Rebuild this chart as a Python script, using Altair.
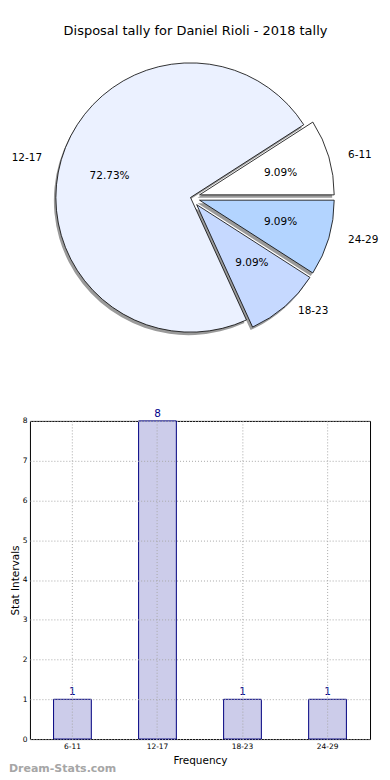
import math
import altair as alt
import pandas as pd

# ---------------- data ----------------
categories = ["6-11", "12-17", "18-23", "24-29"]
counts = [1, 8, 1, 1]
pie_colors = ["#ffffff", "#ebf1ff", "#c6d9ff", "#b3d4ff"]
explode = [0.07, 0.0, 0.07, 0.07]
y_ticks = [0, 1, 2, 3, 4, 5, 6, 7, 8]

title_text = "Disposal tally for Daniel Rioli - 2018 tally"
watermark = "Dream-Stats.com"

# ---------------- layout constants ----------------
X0 = 29          # page x of bar view left edge
CX = 190 - X0    # pie centre in view coords
CY = 189
R = 135
LRX = 141        # label placement radii (reference pie is slightly elliptical)
LRY = 128
BAR_W = 370 - X0
BAR_H = 319
PIE_W = 382 - X0
PIE_H = 380

# ---------------- pie table (built from the arrays) ----------------
total = sum(counts)
rows = []
a0 = 0.0
for cat, c, col, ex in zip(categories, counts, pie_colors, explode):
    a1 = a0 + 360.0 * c / total
    am = math.radians((a0 + a1) / 2)
    px = CX + ex * R * math.cos(am)
    py = CY - ex * R * math.sin(am)
    rows.append({
        "cat": cat,
        "t0": math.radians(90 - a1),
        "t1": math.radians(90 - a0),
        "px": px,
        "py": py,
        "sx": px - 2,
        "sy": py + 3,
        "pctx": px + 0.6 * LRX * math.cos(am),
        "pcty": py - 0.6 * LRY * math.sin(am),
        "lx": px + 1.1 * LRX * math.cos(am),
        "ly": py - 1.1 * LRY * math.sin(am),
        "side": "L" if math.cos(am) >= 0 else "R",
        "pct": f"{100.0 * c / total:.2f}%",
    })
    a0 = a1
pie_df = pd.DataFrame(rows)

color_scale = alt.Scale(domain=categories, range=pie_colors)

pie_base = alt.Chart(pie_df)

shadow = pie_base.mark_arc(outerRadius=R, fill="#9a9a9a").encode(
    x=alt.X("sx:Q", scale=None, axis=None),
    y=alt.Y("sy:Q", scale=None, axis=None),
    theta=alt.Theta("t0:Q", scale=None),
    theta2="t1:Q",
)

slices = pie_base.mark_arc(outerRadius=R, stroke="black", strokeWidth=0.8).encode(
    x=alt.X("px:Q", scale=None, axis=None),
    y=alt.Y("py:Q", scale=None, axis=None),
    theta=alt.Theta("t0:Q", scale=None),
    theta2="t1:Q",
    color=alt.Color("cat:N", scale=color_scale, legend=None),
)

pct_text = pie_base.mark_text(fontSize=10.5, color="black", baseline="middle", align="center").encode(
    x=alt.X("pctx:Q", scale=None, axis=None),
    y=alt.Y("pcty:Q", scale=None, axis=None),
    text="pct:N",
)

lab_left = pie_base.transform_filter(alt.datum.side == "L").mark_text(
    fontSize=10.5, color="black", baseline="middle", align="left"
).encode(
    x=alt.X("lx:Q", scale=None, axis=None),
    y=alt.Y("ly:Q", scale=None, axis=None),
    text="cat:N",
)

lab_right = pie_base.transform_filter(alt.datum.side == "R").mark_text(
    fontSize=10.5, color="black", baseline="middle", align="right"
).encode(
    x=alt.X("lx:Q", scale=None, axis=None),
    y=alt.Y("ly:Q", scale=None, axis=None),
    text="cat:N",
)

title_mark = alt.Chart(pd.DataFrame({"t": [title_text]})).mark_text(
    fontSize=13, color="black", baseline="middle", align="center"
).encode(
    x=alt.value(195 - X0),
    y=alt.value(22),
    text="t:N",
)

pie_chart = alt.layer(shadow, slices, pct_text, lab_left, lab_right, title_mark).properties(
    width=PIE_W, height=PIE_H
)

# ---------------- bar chart ----------------
bar_df = pd.DataFrame({"cat": categories, "count": counts})

x_enc = alt.X(
    "cat:N",
    sort=categories,
    scale=alt.Scale(paddingInner=0.556, paddingOuter=0.278),
    axis=alt.Axis(
        title="Frequency", labelAngle=0, labelFontSize=7.5, labelPadding=3,
        titleFontSize=10.5, titleFontWeight="normal", titlePadding=6,
        ticks=False, domain=False, grid=True, gridDash=[1, 2],
        gridColor="#a8a8a8", gridWidth=1, zindex=1, labelColor="black", titleColor="black",
    ),
)
y_enc = alt.Y(
    "count:Q",
    scale=alt.Scale(domain=[0, 8], nice=False),
    axis=alt.Axis(
        title="Stat Intervals", values=y_ticks, format="d", labelFontSize=7.5, labelPadding=3,
        labelOverlap=False, titleFontSize=10.5, titleFontWeight="normal", titlePadding=2,
        ticks=False, domain=False, grid=True, gridDash=[1, 2],
        gridColor="#a8a8a8", gridWidth=1, zindex=1, labelColor="black", titleColor="black",
    ),
)

bar_base = alt.Chart(bar_df).encode(x=x_enc, y=y_enc)
bars = bar_base.mark_bar(fill="#ccccea", stroke="#000080", strokeWidth=1)
bar_labels = bar_base.mark_text(
    baseline="bottom", dy=-2, fontSize=10.5, color="#00008b"
).encode(text="count:Q")

wm = alt.Chart(pd.DataFrame({"t": [watermark]})).mark_text(
    fontSize=11, fontWeight="bold", color="#a6a6a6", align="left", baseline="middle"
).encode(
    x=alt.value(8 - X0),
    y=alt.value(770 - 421),
    text="t:N",
)

bar_chart = alt.layer(bars, bar_labels, wm).properties(
    width=BAR_W, height=BAR_H, view=alt.ViewBackground(stroke="black", strokeWidth=1)
)

chart = alt.vconcat(pie_chart, bar_chart, spacing=421 - 8 - PIE_H, bounds="flush").properties(
    padding=0
).configure(font="DejaVu Sans").configure_view(stroke=None)

chart.save("out.html", embed_options={"renderer": "svg", "actions": False})
